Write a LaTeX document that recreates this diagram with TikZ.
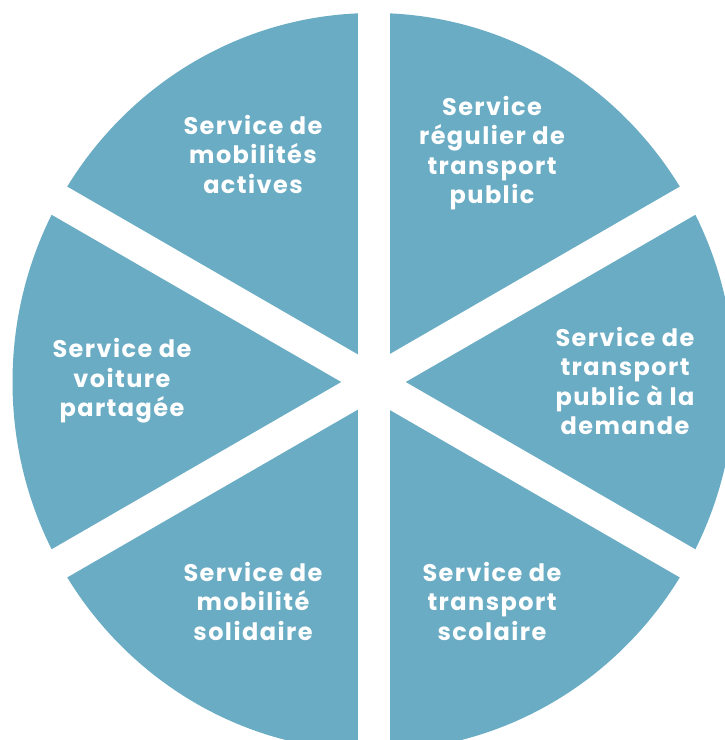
\documentclass[tikz,border=0pt]{standalone}
\usepackage{fontspec}
\setmainfont{Poppins}
\newfontfamily\lblfont[LetterSpace=6]{Poppins}
\usepackage{tikz}
\usetikzlibrary{calc}
\definecolor{piebg}{RGB}{106,172,195}

\begin{document}
\begin{tikzpicture}[x=1pt, y=-1pt,
  gap/.style={draw=white, line width=32pt},
  lbl/.style={text=white, align=center, font=\lblfont\fontsize{24}{29.5}\selectfont\bfseries}
]
\useasboundingbox (0,0) rectangle (725,740);

% Disc, then the three white cuts through its centre
\coordinate (c) at (373.5,382);
\fill[piebg] (c) ellipse [x radius=361, y radius=369];
\foreach \a in {90,30,150}
  \draw[gap] ($(c)+(\a:400)$) -- ($(c)+(\a+180:400)$);

% Sector labels
\node[lbl] (mobact) at (253,154) {Service de\\mobilités\\actives};
\node[lbl] (regulier) at (492,153) {Service\\régulier de\\transport\\public};
\node[lbl] (demande) at (625,381) {Service de\\transport\\public à la\\demande};
\node[lbl] (voiture) at (122,381) {Service de\\voiture\\partagée};
\node[lbl] (solidaire) at (253,601) {Service de\\mobilité\\solidaire};
\node[lbl] (scolaire) at (492,601) {Service de\\transport\\scolaire};
\end{tikzpicture}
\end{document}
